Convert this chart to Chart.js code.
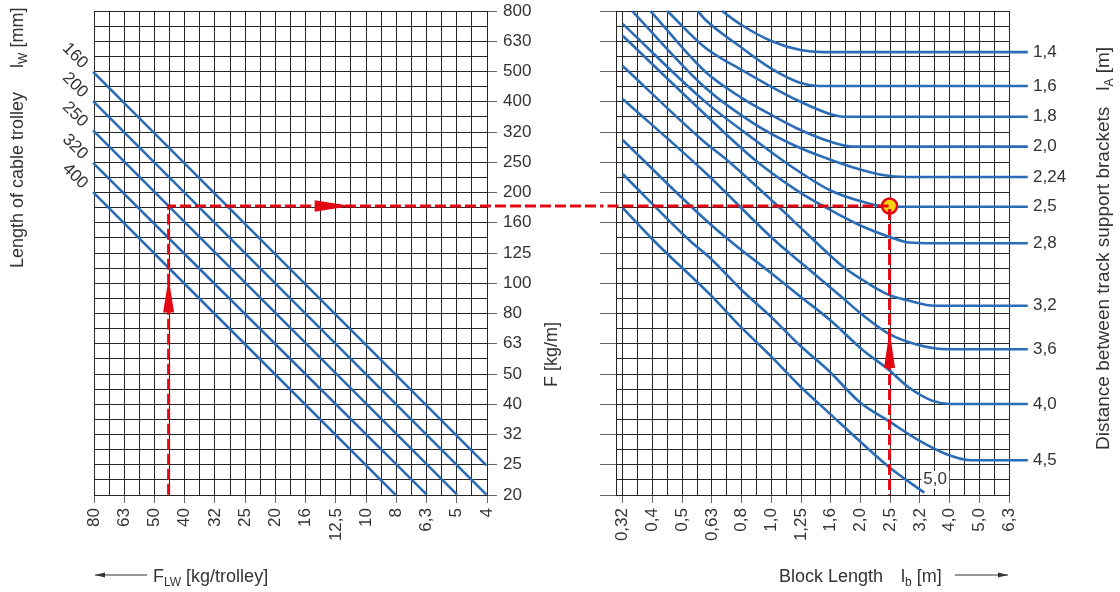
<!DOCTYPE html>
<html>
<head>
<meta charset="utf-8">
<title>Cable trolley nomogram</title>
<script src="https://cdn.jsdelivr.net/npm/chart.js@4.4.1/dist/chart.umd.min.js"></script>
<style>
  body { margin: 0; background: #fff; }
  #wrap { position: relative; width: 1120px; height: 592px; overflow: hidden; }
  #wrap canvas { position: absolute; top: 0; }
</style>
</head>
<body>
<div id="wrap">
  <canvas id="loadChart" width="600" height="592" style="left:0"></canvas>
  <canvas id="spanChart" width="520" height="592" style="left:600px"></canvas>
</div>
<script>
// tick labels as printed (left to right, top to bottom)
var loadTicks = ['80', '63', '50', '40', '32', '25', '20', '16', '12,5', '10', '8', '6,3', '5', '4'];
var forceTicks = ['800', '630', '500', '400', '320', '250', '200', '160', '125', '100', '80', '63', '50', '40', '32', '25', '20'];
var blockTicks = ['0,32', '0,4', '0,5', '0,63', '0,8', '1,0', '1,25', '1,6', '2,0', '2,5', '3,2', '4,0', '5,0', '6,3'];

// left: length of cable trolley lW [mm]; points are [kg/trolley, kg/m]
var trolleyLabels = ['160', '200', '250', '320', '400'];
var lw160 = [[80, 500], [4, 25]];
var lw200 = [[80, 400], [4, 20]];
var lw250 = [[80, 320], [5, 20]];
var lw320 = [[80, 250], [6.3, 20]];
var lw400 = [[80, 200], [8, 20]];
var trolleyLines = [lw160, lw200, lw250, lw320, lw400];

// right: distance between track support brackets lA [m]; points are [m, kg/m]
var spanLabels = ['1,4', '1,6', '1,8', '2,0', '2,24', '2,5', '2,8', '3,2', '3,6', '4,0', '4,5', '5,0'];
var la14 = [[0.682, 794], [0.794, 714], [1.0, 632], [1.254, 590], [1.497, 581], [7.3, 581]];
var la16 = [[0.565, 794], [0.601, 742], [0.772, 613], [1.0, 512], [1.254, 459], [1.442, 449], [7.3, 449]];
var la18 = [[0.4465, 794], [0.601, 599], [0.794, 507], [1.0, 446], [1.254, 398], [1.576, 363], [1.788, 355], [7.3, 355]];
var la20 = [[0.392, 794], [0.601, 499], [0.794, 410], [1.0, 360], [1.254, 321], [1.576, 294], [1.881, 283], [7.3, 283]];
var la224 = [[0.340, 794], [0.601, 442], [0.879, 336], [1.192, 286], [1.532, 259], [1.925, 240], [2.364, 228], [2.86, 224.5], [7.3, 224.5]];
var la25 = [[0.316, 720], [0.601, 397], [0.879, 298], [1.192, 240], [1.576, 203], [2.03, 186], [2.488, 179], [7.3, 179]];
var la28 = [[0.316, 658], [0.601, 360], [0.879, 256], [1.254, 199], [1.576, 175], [2.03, 154], [2.488, 142.5], [2.897, 136.4], [3.548, 135.6], [7.3, 135.6]];
var la32 = [[0.316, 522.6], [0.601, 290.8], [0.709, 255.6], [1.0, 188.4], [1.388, 139.0], [1.744, 113.4], [2.03, 102.5], [2.488, 91.5], [2.897, 87.7], [3.548, 84.3], [7.3, 84.3]];
var la36 = [[0.316, 406.6], [0.601, 231.5], [1.023, 139.0], [1.286, 114.9], [1.744, 89.2], [2.03, 78.5], [2.488, 68], [3.126, 62.5], [3.929, 60.5], [7.3, 60.5]];
var la40 = [[0.316, 297.6], [0.601, 161.8], [0.755, 133.8], [1.0, 107.9], [1.254, 90.3], [1.576, 75.6], [2.03, 60.2], [2.488, 51.7], [2.897, 45.3], [3.459, 41.0], [4.0, 39.9], [7.3, 39.9]];
var la45 = [[0.316, 229.7], [0.529, 139.0], [0.632, 119.4], [0.794, 95.0], [1.0, 77.3], [1.254, 62.0], [1.576, 50.9], [1.981, 40.5], [2.488, 35.0], [3.126, 30.3], [3.929, 27.1], [4.69, 26.0], [7.3, 26.0]];
var la50 = [[0.316, 177.4], [0.400, 139.0], [0.632, 90.3], [0.794, 71.3], [1.0, 57.2], [1.254, 45.5], [1.576, 37.0], [1.981, 30.1], [2.488, 24.7], [3.273, 20.3]];
var spanCurves = [la14, la16, la18, la20, la224, la25, la28, la32, la36, la40, la45, la50];

// worked example
var exLoad = 45, exForce = 180, exBlock = 2.5;
var arrowUpLeft = [80, 104];    // kg/m, base -> tip
var arrowRight = [14.8, 11.2];  // kg/trolley, base -> tip
var arrowUpRight = [52.5, 70];  // kg/m, base -> tip

var red = '#e30613', blue = '#2b6cb6', ink = '#333', gridInk = '#262626';
var family = '"Liberation Sans", Arial, sans-serif';
Chart.defaults.font.family = family;
Chart.defaults.color = ink;

function num(s) { return parseFloat(s.replace(',', '.')); }
function pts(a) { return a.map(function (p) { return { x: p[0], y: p[1] }; }); }

// half-step R10 ladder from the smallest printed value
function ladder(asc) {
    var lo = Math.round(Math.log10(num(asc[0])) * 10) / 10;
    var v = [];
    for (var i = 0; i <= (asc.length - 1) * 2; i++) v.push(Math.pow(10, lo + i * 0.05));
    return v;
}

function fixSize(o) {
    return function (s) {
        if (o.width) s.width = o.width;
        if (o.height) s.height = o.height;
        s.paddingTop = s.paddingBottom = s.paddingLeft = s.paddingRight = 0;
    };
}

function axis(asc, o) {
    var steps = ladder(asc);
    return {
        type: 'logarithmic',
        position: o.position,
        reverse: !!o.reverse,
        min: steps[0],
        max: steps[steps.length - 1],
        afterBuildTicks: function (s) { s.ticks = steps.map(function (v) { return { value: v }; }); },
        afterFit: fixSize(o),
        grid: {
            color: gridInk, lineWidth: 1, tickLength: o.tick, tickWidth: 1,
            tickColor: function (c) { return c.index % 2 ? 'rgba(0,0,0,0)' : '#666'; }
        },
        border: { color: gridInk, width: 1 },
        ticks: {
            display: o.labels !== false, autoSkip: false, padding: o.pad || 5,
            minRotation: o.rot || 0, maxRotation: o.rot || 0, color: ink, font: { size: 17 },
            callback: function (v, i) { return i % 2 ? '' : asc[i / 2]; }
        }
    };
}

var loadAsc = loadTicks.slice().reverse();
var forceAsc = forceTicks.slice().reverse();
var forceMin = num(forceAsc[0]);

function rich(c, x, y, angle, size, parts) {
    c.save();
    c.translate(x, y);
    c.rotate(angle);
    c.fillStyle = ink;
    c.textAlign = 'left';
    c.textBaseline = 'alphabetic';
    var pos = 0;
    parts.forEach(function (p) {
        if (typeof p === 'number') { pos += p; return; }
        c.font = (p[1] ? 12 : size) + 'px ' + family;
        c.fillText(p[0], pos, p[1] ? 4 : 0);
        pos += c.measureText(p[0]).width;
    });
    c.restore();
}

function head(c, bx, by, tx, ty, half) {
    var dx = tx - bx, dy = ty - by, l = Math.sqrt(dx * dx + dy * dy);
    var nx = -dy / l * half, ny = dx / l * half;
    c.beginPath();
    c.moveTo(tx, ty);
    c.lineTo(bx + nx, by + ny);
    c.lineTo(bx - nx, by - ny);
    c.closePath();
    c.fill();
}

function pointer(c, x0, x1, y) {
    c.save();
    c.strokeStyle = '#333';
    c.fillStyle = '#333';
    c.lineWidth = 1;
    c.beginPath();
    c.moveTo(x0, y);
    c.lineTo(x1, y);
    c.stroke();
    head(c, x1 - Math.sign(x1 - x0) * 10, y, x1, y, 2.5);
    c.restore();
}

var loadDecor = {
    id: 'loadDecor',
    afterDatasetsDraw: function (chart) {
        var c = chart.ctx, sx = chart.scales.x, sy = chart.scales.y;
        c.save();
        c.fillStyle = red;
        var xl = sx.getPixelForValue(exLoad);
        head(c, xl, sy.getPixelForValue(arrowUpLeft[0]), xl, sy.getPixelForValue(arrowUpLeft[1]), 5.5);
        var yf = sy.getPixelForValue(exForce);
        head(c, sx.getPixelForValue(arrowRight[0]), yf, sx.getPixelForValue(arrowRight[1]), yf, 5.8);
        c.fillStyle = ink;
        c.font = '17px ' + family;
        c.textAlign = 'center';
        c.textBaseline = 'middle';
        trolleyLines.forEach(function (ln, i) {
            c.save();
            c.translate(sx.getPixelForValue(ln[0][0]) - 18, sy.getPixelForValue(ln[0][1]) - 16);
            c.rotate(Math.PI / 4);
            c.fillText(trolleyLabels[i], 0, 0);
            c.restore();
        });
        c.restore();
        rich(c, 23, 268, -Math.PI / 2, 18, [['Length of cable trolley'], 24, ['l'], ['W', 1], [' [mm]']]);
        rich(c, 557, 387, -Math.PI / 2, 18, [['F [kg/m]']]);
        rich(c, 153, 582, 0, 18, [['F'], ['LW', 1], [' [kg/trolley]']]);
        pointer(c, 147, 95, 575);
    }
};

var spanDecor = {
    id: 'spanDecor',
    afterDatasetsDraw: function (chart) {
        var c = chart.ctx, sx = chart.scales.x, sy = chart.scales.y;
        c.save();
        c.fillStyle = red;
        var xb = sx.getPixelForValue(exBlock);
        head(c, xb, sy.getPixelForValue(arrowUpRight[0]), xb, sy.getPixelForValue(arrowUpRight[1]), 5.5);
        // label of the last curve sits inside the grid
        var end = la50[la50.length - 1];
        var ex = sx.getPixelForValue(end[0]), ey = sy.getPixelForValue(end[1]);
        c.fillStyle = '#fff';
        c.fillRect(ex - 3, ey - 22, 28, 18);
        c.fillStyle = ink;
        c.font = '17px ' + family;
        c.textAlign = 'left';
        c.textBaseline = 'middle';
        c.fillText(spanLabels[11], ex - 1, ey - 13);
        c.restore();
        rich(c, 509, 450, -Math.PI / 2, 19, [['Distance between track support brackets'], 16, ['l'], ['A', 1], [' [m]']]);
        rich(c, 179, 582, 0, 18, [['Block Length'], 18, ['l'], ['b', 1], [' [m]']]);
        pointer(c, 355, 408, 575);
    }
};

function lineSet(a, order) {
    return {
        data: pts(a), showLine: true, borderColor: blue, borderWidth: 2.6,
        pointRadius: 0, fill: false, clip: false, cubicInterpolationMode: 'monotone', order: order
    };
}

function pathSet(a) {
    return {
        data: pts(a), showLine: true, borderColor: red, borderWidth: 3, borderDash: [11, 4],
        pointRadius: 0, fill: false, clip: false, tension: 0, order: 0
    };
}

var common = {
    responsive: false,
    animation: false,
    devicePixelRatio: 1,
    events: [],
    plugins: { legend: { display: false }, tooltip: { enabled: false } }
};

var loadSets = trolleyLines.map(function (l) { return lineSet(l, 2); });
loadSets.push(pathSet([[exLoad, forceMin], [exLoad, exForce], [1, exForce]]));

new Chart('loadChart', {
    type: 'scatter',
    data: { datasets: loadSets },
    options: Object.assign({}, common, {
        layout: { padding: { left: 94, top: 11, right: 0, bottom: 0 } },
        scales: {
            x: axis(loadAsc, { position: 'bottom', reverse: true, height: 97, tick: 8, pad: 5, rot: 90 }),
            y: axis(forceAsc, { position: 'right', width: 113, tick: 10, pad: 6 })
        }
    }),
    plugins: [loadDecor]
});

var spanSets = spanCurves.map(function (l) { return lineSet(l, 2); });
spanSets.push({
    data: [{ x: exBlock, y: exForce }], showLine: false, pointRadius: 7.5, pointBorderWidth: 2.5,
    pointBackgroundColor: '#f6d20f', pointBorderColor: red, clip: false, order: 1
});
spanSets.push(pathSet([[0.25, exForce], [exBlock, exForce], [exBlock, forceMin]]));

var yLevels = axis(forceAsc, { position: 'right', width: 111, tick: 0 });
yLevels.afterBuildTicks = function (s) {
    s.ticks = spanCurves.slice(0, 11).map(function (a) { return { value: a[a.length - 1][1] }; });
};
yLevels.grid = { display: false, drawTicks: false };
yLevels.border = { display: false };
yLevels.ticks = { autoSkip: false, padding: 24, color: ink, font: { size: 17 }, callback: function (v, i) { return spanLabels[i]; } };

new Chart('spanChart', {
    type: 'scatter',
    data: { datasets: spanSets },
    options: Object.assign({}, common, {
        layout: { padding: { left: 0, top: 11, right: 0, bottom: 0 } },
        scales: {
            x: axis(blockTicks, { position: 'bottom', height: 97, tick: 8, pad: 5, rot: 90 }),
            y: axis(forceAsc, { position: 'left', width: 16, tick: 16, labels: false }),
            yA: yLevels
        }
    }),
    plugins: [spanDecor]
});
</script>
</body>
</html>
